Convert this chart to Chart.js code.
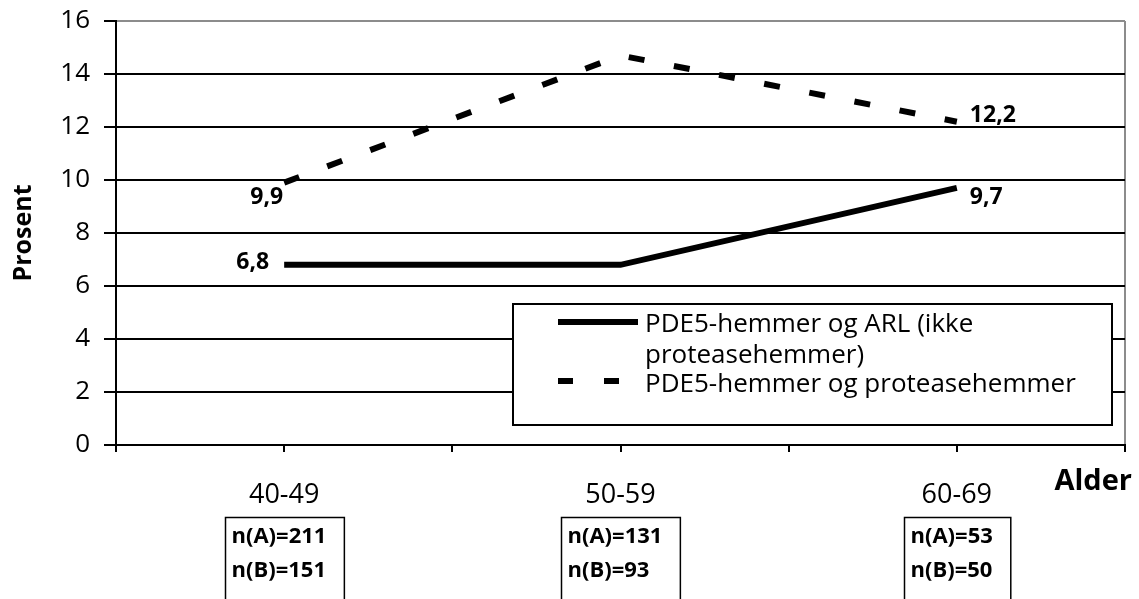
<!DOCTYPE html>
<html>
<head>
<meta charset="utf-8">
<script src="https://cdn.jsdelivr.net/npm/chart.js@4/dist/chart.umd.min.js"></script>
<style>
html,body{margin:0;padding:0;background:#fff}
#wrap{width:1139px;height:599px;position:relative}
</style>
</head>
<body>
<div id="wrap"><canvas id="c"></canvas></div>
<script>
// ---- data ----
const categories = ['40-49', '50-59', '60-69'];
const seriesARL = [6.8, 6.8, 9.7];
const seriesPI = [9.9, 14.7, 12.2];
const seriesNames = ['PDE5-hemmer og ARL (ikke proteasehemmer)', 'PDE5-hemmer og proteasehemmer'];
const legendLines = [['PDE5-hemmer og ARL (ikke', 'proteasehemmer)'], ['PDE5-hemmer og proteasehemmer']];
const nA = [211, 131, 53];
const nB = [151, 93, 50];
const yMin = 0, yMax = 16, yStep = 2;
const yTitle = 'Prosent';
const xTitle = 'Alder';

const FONT = '"Open Sans", "Noto Sans", sans-serif';
Chart.defaults.font.family = FONT;
Chart.defaults.color = '#000';

const fmt = v => String(v).replace('.', ',');

const overlay = {
  id: 'overlay',
  afterDraw(chart) {
    const {ctx, scales: {x}} = chart;
    ctx.save();
    ctx.fillStyle = '#000';
    ctx.strokeStyle = '#000';
    ctx.textBaseline = 'middle';

    // value labels (first and last point of each series)
    ctx.font = 'bold 23px ' + FONT;
    const labs = [
      {ds: 0, i: 0, dx: -15, dy: -2, align: 'right'},
      {ds: 0, i: 2, dx: 13, dy: 10, align: 'left'},
      {ds: 1, i: 0, dx: -1, dy: 15, align: 'right'},
      {ds: 1, i: 2, dx: 13, dy: -6, align: 'left'}
    ];
    labs.forEach(l => {
      const pt = chart.getDatasetMeta(l.ds).data[l.i];
      const v = chart.data.datasets[l.ds].data[l.i].y;
      ctx.textAlign = l.align;
      ctx.fillText(fmt(v), pt.x + l.dx, pt.y + l.dy);
    });

    // legend
    const lx = 513, ly = 304, lw = 599, lh = 121;
    ctx.fillStyle = '#fff';
    ctx.fillRect(lx, ly, lw, lh);
    ctx.lineWidth = 2;
    ctx.strokeRect(lx, ly, lw, lh);
    ctx.fillStyle = '#000';
    ctx.lineWidth = 6;
    ctx.lineCap = 'butt';
    ctx.beginPath();
    ctx.moveTo(558, 322); ctx.lineTo(638, 322);
    ctx.stroke();
    ctx.setLineDash([15, 31]);
    ctx.beginPath();
    ctx.moveTo(558, 381); ctx.lineTo(638, 381);
    ctx.stroke();
    ctx.setLineDash([]);
    ctx.font = '26px ' + FONT;
    ctx.textAlign = 'left';
    ctx.fillText(legendLines[0][0], 645, 325);
    ctx.fillText(legendLines[0][1], 645, 356);
    ctx.fillText(legendLines[1][0], 645, 385);

    // n boxes
    ctx.font = 'bold 22px ' + FONT;
    ctx.lineWidth = 1.5;
    categories.forEach((c, i) => {
      const cx = x.getPixelForValue(i);
      const t1 = 'n(A)=' + nA[i], t2 = 'n(B)=' + nB[i];
      const w = Math.max(ctx.measureText(t1).width, ctx.measureText(t2).width) + 24;
      const left = Math.round(cx - w / 2) + 0.5;
      ctx.strokeRect(left, 517.5, w, 120);
      ctx.textAlign = 'left';
      ctx.fillText(t1, left + 6, 537);
      ctx.fillText(t2, left + 6, 571);
    });

    // x title
    ctx.font = 'bold 29px ' + FONT;
    ctx.textAlign = 'right';
    ctx.fillText(xTitle, 1132, 482);
    ctx.restore();
  }
};

new Chart(document.getElementById('c'), {
  type: 'line',
  data: {
    datasets: [
      {
        label: seriesNames[0],
        data: seriesARL.map((v, i) => ({x: i, y: v})),
        borderColor: '#000',
        borderWidth: 6,
        pointRadius: 0,
        tension: 0,
        fill: false,
        borderCapStyle: 'butt',
        borderJoinStyle: 'miter'
      },
      {
        label: seriesNames[1],
        data: seriesPI.map((v, i) => ({x: i, y: v})),
        borderColor: '#000',
        borderWidth: 6,
        borderDash: [16, 30],
        pointRadius: 0,
        tension: 0,
        fill: false,
        borderCapStyle: 'butt',
        borderJoinStyle: 'miter'
      }
    ]
  },
  options: {
    responsive: true,
    maintainAspectRatio: false,
    animation: false,
    devicePixelRatio: 1,
    layout: {padding: {left: 0, right: 14, top: 21, bottom: 0}},
    plugins: {legend: {display: false}, tooltip: {enabled: false}},
    scales: {
      x: {
        type: 'linear',
        min: -0.5,
        max: categories.length - 0.5,
        afterFit: s => { s.height = 154; s.paddingLeft = 0; s.paddingRight = 0; },
        afterBuildTicks: s => {
          const t = [];
          for (let v = -0.5; v <= categories.length - 0.5 + 1e-9; v += 0.5) t.push({value: v});
          s.ticks = t;
        },
        ticks: {
          autoSkip: false,
          maxRotation: 0,
          padding: 27,
          font: {size: 27},
          callback: v => Number.isInteger(v) ? categories[v] : ''
        },
        grid: {
          drawOnChartArea: true,
          color: c => (c.tick && Math.abs(c.tick.value - (categories.length - 0.5)) < 1e-6) ? '#8c8c8c' : 'rgba(0,0,0,0)',
          tickColor: '#000',
          tickLength: 7,
          lineWidth: 2
        },
        border: {display: true, color: '#000', width: 2}
      },
      y: {
        min: yMin,
        max: yMax,
        afterFit: s => { s.width = 116; s.paddingTop = 0; s.paddingBottom = 0; },
        ticks: {stepSize: yStep, padding: 14, font: {size: 26}},
        grid: {
          color: c => (c.tick && c.tick.value === yMax) ? '#8c8c8c' : '#000',
          tickColor: '#000',
          tickLength: 12,
          lineWidth: 2
        },
        border: {display: true, color: '#000', width: 2},
        title: {
          display: true,
          text: yTitle,
          font: {size: 25, weight: 'bold'},
          padding: {top: 9, bottom: 0}
        }
      }
    }
  },
  plugins: [overlay]
});
</script>
</body>
</html>
